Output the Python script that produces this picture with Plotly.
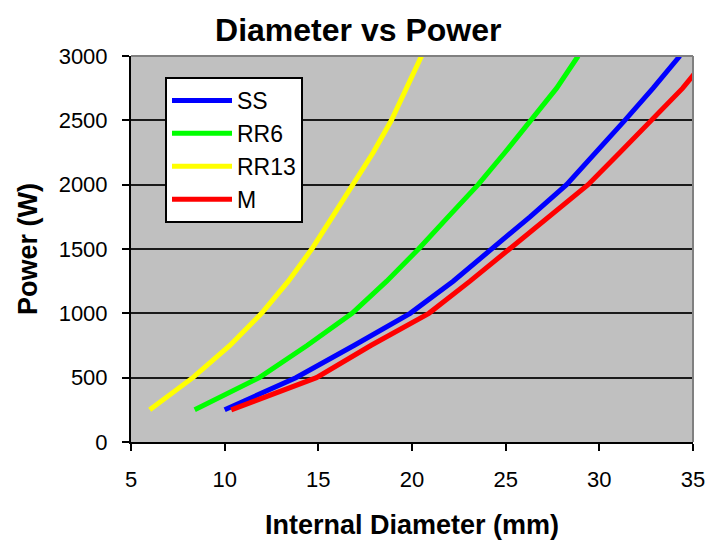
import plotly.graph_objects as go

power = [250, 500, 750, 1000, 1250, 1500, 1750, 2000, 2250, 2500, 2750, 3000]
ss_diam = [10.0, 13.8, 16.9, 19.9, 22.2, 24.3, 26.3, 28.25, 29.85, 31.36, 32.87, 34.3]
rr6_diam = [8.4, 11.85, 14.4, 16.8, 18.65, 20.35, 21.93, 23.53, 24.96, 26.38, 27.72, 28.87]
rr13_diam = [6.0, 8.3, 10.28, 11.97, 13.4, 14.65, 15.75, 16.87, 17.93, 18.9, 19.7, 20.51]
m_diam = [10.35, 14.9, 17.8, 20.9, 23.1, 25.2, 27.35, 29.4, 31.1, 32.8, 34.45, 35.85]

series = [
    ("SS", ss_diam, "#0000FF"),
    ("RR6", rr6_diam, "#00FF00"),
    ("RR13", rr13_diam, "#FFFF00"),
    ("M", m_diam, "#FF0000"),
]

FONT = "Liberation Sans, Arial, sans-serif"

fig = go.Figure()
for name, xs, col in series:
    fig.add_trace(go.Scatter(
        x=xs, y=power, mode="lines", name=name, legendgroup=name,
        line=dict(color=col, width=5),
    ))

fig.update_layout(
    width=708, height=543,
    margin=dict(l=131, r=15, t=56, b=101),
    paper_bgcolor="white",
    plot_bgcolor="#C0C0C0",
    font=dict(family=FONT, size=22, color="black"),
    title=dict(text="<b>Diameter vs Power</b>", x=0.506, xanchor="center",
               y=0.945, yanchor="middle", font=dict(size=32, family=FONT)),
    showlegend=True,
    legend=dict(x=0.0605, y=0.9456, xanchor="left", yanchor="top",
                bgcolor="white", bordercolor="black", borderwidth=2,
                font=dict(size=23, family=FONT), tracegroupgap=0,
                itemwidth=60),
    xaxis=dict(
        range=[5, 35], dtick=5, tick0=5, showgrid=False, zeroline=False,
        showline=True, linecolor="black", linewidth=2, mirror=False,
        ticks="outside", ticklen=7, tickcolor="black", tickwidth=2,
        tickfont=dict(size=22), automargin=False, ticklabelstandoff=10,
        title=dict(text="<b>Internal Diameter (mm)</b>", font=dict(size=27), standoff=24),
    ),
    yaxis=dict(
        range=[0, 3000], dtick=500, showgrid=True, gridcolor="#1a1a1a", gridwidth=2,
        zeroline=False, showline=True, linecolor="black", linewidth=2,
        ticks="outside", ticklen=7, tickcolor="black", tickwidth=2,
        tickfont=dict(size=22), automargin=False, ticklabelstandoff=10,
        title=dict(text="<b>Power (W)</b>", font=dict(size=27), standoff=13),
    ),
)

# gray border on top and right of plot area
fig.add_shape(type="line", xref="paper", yref="paper", x0=0, x1=1, y0=1, y1=1,
              line=dict(color="#808080", width=2))
fig.add_shape(type="line", xref="paper", yref="paper", x0=1, x1=1, y0=0, y1=1,
              line=dict(color="#808080", width=2))

fig.write_html("out.html")
